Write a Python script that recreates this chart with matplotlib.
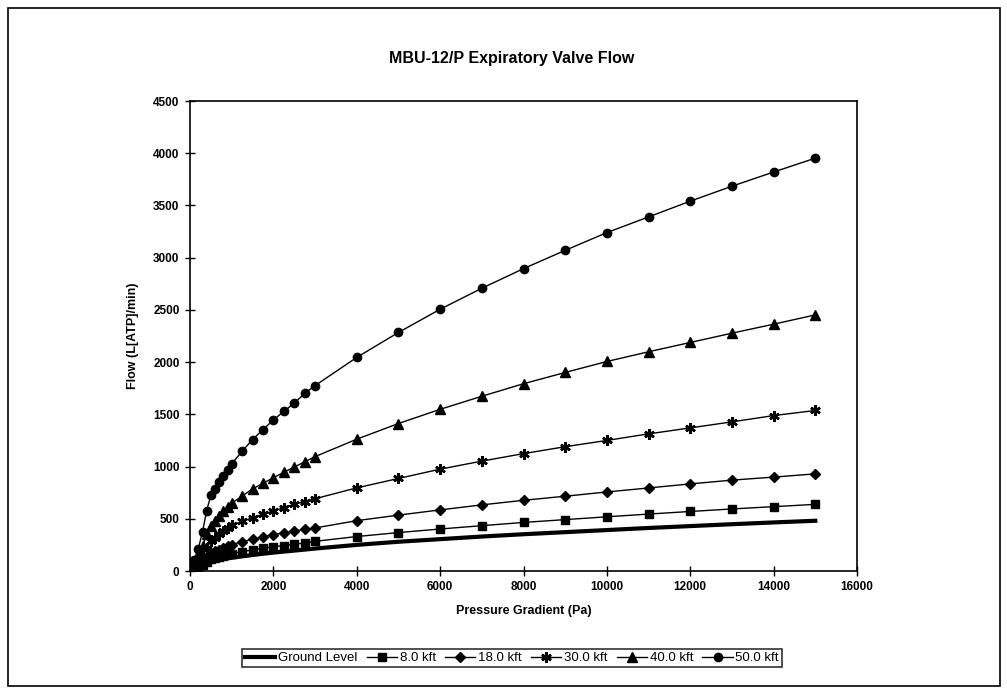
import matplotlib
matplotlib.use("Agg")
import matplotlib.pyplot as plt
from matplotlib.patches import Rectangle
from matplotlib import font_manager

# Pressure gradient sample points (Pa)
pressure = [0, 100, 200, 300, 400, 500, 600, 700, 800, 900, 1000,
            1250, 1500, 1750, 2000, 2250, 2500, 2750, 3000,
            4000, 5000, 6000, 7000, 8000, 9000, 10000, 11000, 12000, 13000, 14000, 15000]

# Flow (L[ATP]/min) for each altitude
ground_level = [0, 15, 30, 45, 70, 88, 97, 105, 113, 120, 127,
                140, 153, 165, 176, 186, 195, 205, 215,
                250, 280, 305, 330, 352, 372, 392, 412, 430, 448, 465, 481]
kft_8 = [0, 20, 38, 60, 90, 115, 128, 138, 148, 158, 166,
         185, 202, 218, 232, 244, 255, 268, 284,
         330, 368, 402, 434, 465, 492, 519, 545, 570, 594, 616, 638]
kft_18 = [0, 30, 58, 90, 135, 172, 190, 205, 222, 238, 252,
          280, 305, 328, 348, 366, 383, 398, 412,
          482, 535, 585, 633, 677, 716, 757, 795, 834, 870, 899, 930]
kft_30 = [0, 50, 95, 150, 225, 290, 320, 350, 385, 410, 436,
          475, 510, 545, 575, 607, 638, 665, 692,
          796, 886, 975, 1052, 1124, 1190, 1250, 1313, 1370, 1428, 1488, 1537]
kft_40 = [0, 70, 140, 240, 350, 430, 480, 525, 570, 610, 648,
          718, 785, 840, 893, 945, 995, 1045, 1095,
          1262, 1412, 1548, 1673, 1793, 1901, 2006, 2099, 2188, 2277, 2363, 2452]
kft_50 = [0, 110, 215, 375, 578, 725, 788, 852, 912, 967, 1025,
          1147, 1258, 1354, 1446, 1528, 1607, 1700, 1775,
          2045, 2284, 2506, 2707, 2895, 3070, 3240, 3390, 3541, 3684, 3820, 3953]

series_labels = ["Ground Level", "8.0 kft", "18.0 kft", "30.0 kft", "40.0 kft", "50.0 kft"]
x_ticks = [0, 2000, 4000, 6000, 8000, 10000, 12000, 14000, 16000]
y_ticks = [0, 500, 1000, 1500, 2000, 2500, 3000, 3500, 4000, 4500]

available = {f.name for f in font_manager.fontManager.ttflist}
family = "Liberation Sans Narrow" if "Liberation Sans Narrow" in available else "Liberation Sans"
plt.rcParams["font.family"] = [family, "DejaVu Sans"]
plt.rcParams["font.weight"] = "bold"

fig = plt.figure(figsize=(10.07, 6.90), dpi=100)
fig.patch.set_facecolor("white")

# page frame
fig.patches.append(Rectangle((8 / 1007, 4 / 690), 992 / 1007, 678 / 690,
                             transform=fig.transFigure, fill=False,
                             edgecolor="black", linewidth=1.2))

ax = fig.add_axes([190 / 1007, 1 - 571 / 690, (857 - 190) / 1007, (571 - 101) / 690])

ax.plot(pressure, ground_level, color="black", linewidth=3.0, label=series_labels[0])
ax.plot(pressure, kft_8, color="black", linewidth=1.0, marker="s", markersize=6.2,
        label=series_labels[1])
ax.plot(pressure, kft_18, color="black", linewidth=1.0, marker="D", markersize=5.0,
        label=series_labels[2])
ax.plot(pressure, kft_30, color="black", linewidth=1.0, marker=(6, 2, 0), markersize=7.5,
        markeredgewidth=1.8, label=series_labels[3])
ax.plot(pressure, kft_40, color="black", linewidth=1.0, marker="^", markersize=6.8,
        label=series_labels[4])
ax.plot(pressure, kft_50, color="black", linewidth=1.0, marker="o", markersize=6.0,
        label=series_labels[5])

ax.set_xlim(0, 16000)
ax.set_ylim(0, 4500)
ax.set_xticks(x_ticks)
ax.set_yticks(y_ticks)
ax.tick_params(direction="inout", length=7, width=1.0, labelsize=8.5, pad=4)
for lbl in ax.get_xticklabels() + ax.get_yticklabels():
    lbl.set_fontweight("bold")
for spine in ax.spines.values():
    spine.set_linewidth(1.2)

ax.set_xlabel("Pressure Gradient (Pa)", fontsize=9, fontweight="bold", labelpad=8)
ax.set_ylabel("Flow (L[ATP]/min)", fontsize=9, fontweight="bold", labelpad=10)

fig.text(512 / 1007, 1 - 59 / 690, "MBU-12/P Expiratory Valve Flow",
         ha="center", va="center", fontsize=11.5, fontweight="bold")

leg = fig.legend(loc="center", bbox_to_anchor=(512 / 1007, 1 - 658 / 690), ncol=6,
                 frameon=True, fancybox=False, edgecolor="black", fontsize=9.5,
                 handlelength=2.3, handletextpad=0.2, columnspacing=0.7,
                 borderpad=0.2, borderaxespad=0)
leg.get_frame().set_linewidth(1.2)
for t in leg.get_texts():
    t.set_fontweight("normal")

fig.savefig("out.png", dpi=100, facecolor="white")
